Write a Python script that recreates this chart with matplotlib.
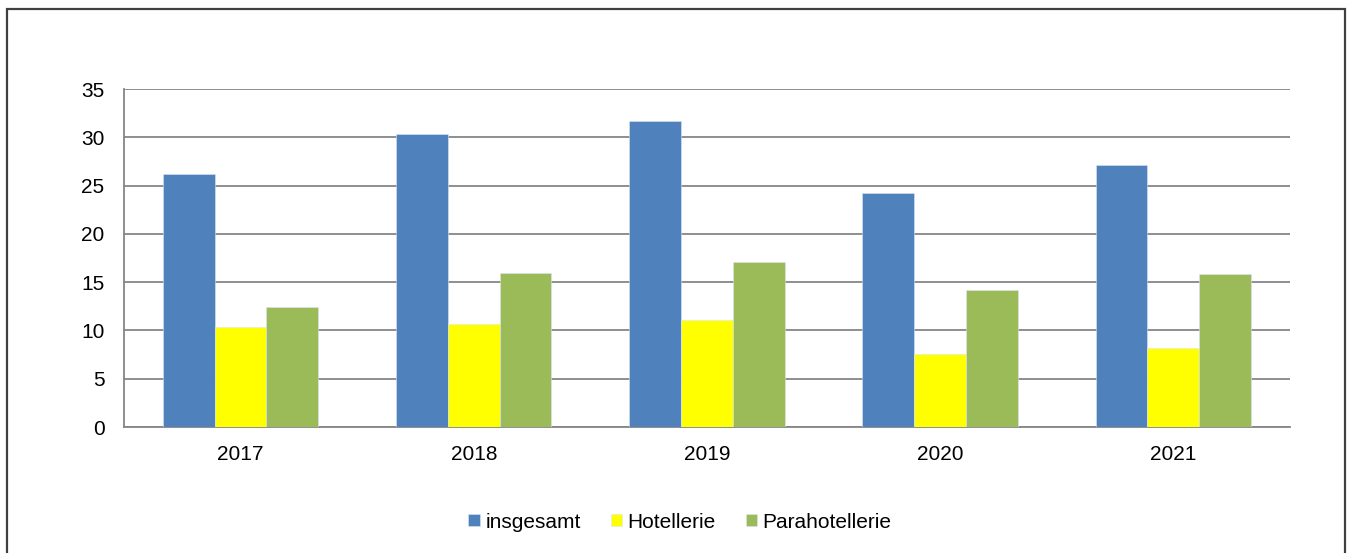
import numpy as np
import matplotlib
matplotlib.use("Agg")
import matplotlib.pyplot as plt
from matplotlib.patches import Rectangle

plt.rcParams["font.family"] = ["Liberation Sans", "DejaVu Sans"]

years = ["2017", "2018", "2019", "2020", "2021"]
insgesamt = [26.2, 30.3, 31.7, 24.2, 27.1]
hotellerie = [10.4, 10.7, 11.1, 7.6, 8.2]
parahotellerie = [12.4, 16.0, 17.1, 14.2, 15.8]

series = [
    ("insgesamt", insgesamt, "#4F81BD"),
    ("Hotellerie", hotellerie, "#FFFF00"),
    ("Parahotellerie", parahotellerie, "#9BBB59"),
]

fig = plt.figure(figsize=(13.49, 5.53), dpi=100)
ax = fig.add_axes([0.0919, 0.2278, 0.8643, 0.6112])

x = np.arange(len(years))
w = 0.222
for i, (name, vals, col) in enumerate(series):
    ax.bar(x + (i - 1) * w, vals, width=w, color=col, label=name,
           edgecolor="#dce6f2", linewidth=0.4, zorder=3)

ax.set_xlim(-0.5, len(years) - 0.5)
ax.set_ylim(0, 35)
ax.set_yticks(range(0, 36, 5))
ax.set_xticks(x)
ax.set_xticklabels(years)
ax.grid(axis="y", color="#868686", linewidth=1.3, zorder=0)
ax.tick_params(length=0, labelsize=15)
ax.tick_params(axis="x", pad=13)
ax.tick_params(axis="y", pad=14)
for s in ["top", "right"]:
    ax.spines[s].set_visible(False)
for s in ["left", "bottom"]:
    ax.spines[s].set_color("#868686")
    ax.spines[s].set_linewidth(1.3)

fig.legend(loc="center", bbox_to_anchor=(680 / 1349, 1 - 522 / 553),
           ncol=3, frameon=False, fontsize=15, handlelength=0.55,
           handleheight=0.55, handletextpad=0.25, columnspacing=1.45)

# outer frame (open at the bottom edge of the image)
fig.add_artist(Rectangle((7 / 1349, -0.05), (1345 - 7) / 1349, 1.05 - 9 / 553,
                         transform=fig.transFigure, fill=False,
                         edgecolor="#404040", linewidth=1.6))

fig.savefig("out.png", dpi=100)
